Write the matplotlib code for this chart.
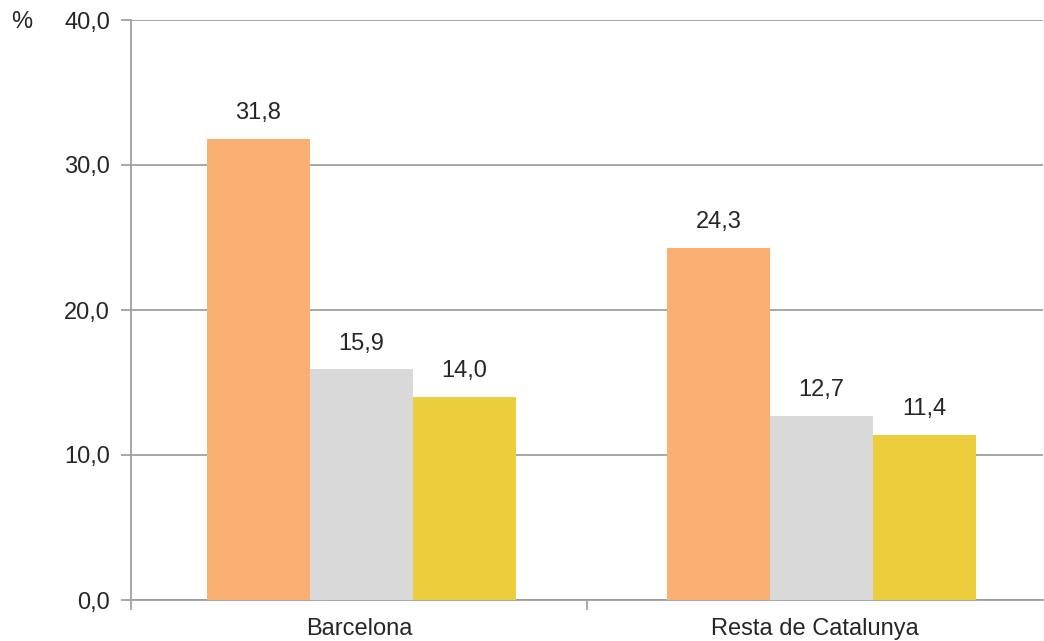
import matplotlib.pyplot as plt
import numpy as np

categories = ['Barcelona', 'Resta de Catalunya']
serie_1 = [31.8, 24.3]
serie_2 = [15.9, 12.7]
serie_3 = [14.0, 11.4]
colors = ['#F9AE72', '#D9D9D9', '#ECCE3D']

plt.rcParams['font.family'] = ['Liberation Sans', 'DejaVu Sans']

fig = plt.figure(figsize=(10.44, 6.41), dpi=100)
ax = fig.add_axes([131 / 1044, 41 / 641, 912 / 1044, 580 / 641])

x = np.arange(len(categories))
shift = np.array([0.005, 0.014])  # small offset of each group, as in the original
w = 0.226
for i, (vals, c) in enumerate(zip([serie_1, serie_2, serie_3], colors)):
    pos = x + shift + (i - 1) * w
    ax.bar(pos, vals, width=w, color=c, zorder=3)
    for p, v in zip(pos, vals):
        ax.text(p, v + 1.0, f'{v:.1f}'.replace('.', ','), ha='center', va='bottom',
                fontsize=17, color='#262626')

ax.set_xlim(-0.5, 1.5)
ax.set_ylim(0, 40)
ax.set_yticks([0, 10, 20, 30, 40])
ax.set_yticklabels([f'{t:.1f}'.replace('.', ',') for t in [0, 10, 20, 30, 40]])
ax.yaxis.grid(True, color='#A0A0A0', linewidth=1.3, zorder=0)
ax.set_axisbelow(True)

ax.set_xticks(x)
ax.set_xticklabels(categories)
ax.set_xticks([-0.5, 0.5], minor=True)
ax.tick_params(axis='x', which='major', length=0, pad=13, labelsize=17, labelcolor='#262626')
ax.tick_params(axis='x', which='minor', length=7, color='#A0A0A0', width=1.3)
ax.tick_params(axis='y', length=7, color='#A0A0A0', width=1.3, pad=8, labelsize=17,
               labelcolor='#262626')

for s in ['top', 'right']:
    ax.spines[s].set_visible(False)
for s in ['left', 'bottom']:
    ax.spines[s].set_color('#A0A0A0')
    ax.spines[s].set_linewidth(1.3)

fig.text(22 / 1044, 1 - 22 / 641, '%', ha='center', va='center', fontsize=17, color='#262626')

fig.savefig('out.png', dpi=100)
